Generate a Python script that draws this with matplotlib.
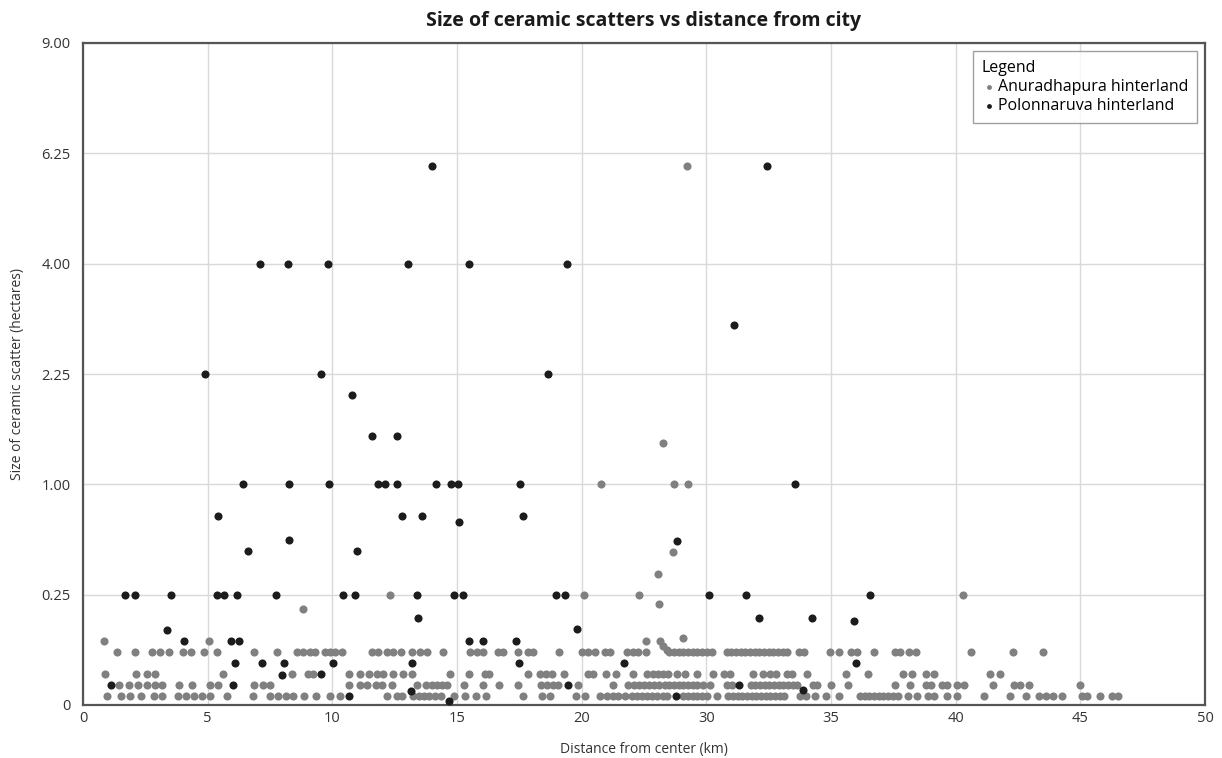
import numpy as np
import matplotlib.pyplot as plt

plt.rcParams['font.family'] = ['Open Sans', 'DejaVu Sans']

# x positions are in axis units: one grid cell = 5 units, tick labels below
xtick_labels = ['0', '5', '10', '15', '20', '30', '35', '40', '45', '50']
ytick_values = [0, 0.25, 1.0, 2.25, 4.0, 6.25, 9.0]
ytick_labels = ['0', '0.25', '1.00', '2.25', '4.00', '6.25', '9.00']

# Anuradhapura hinterland (grey)
anu_low_x = [0.98, 1.51, 1.89, 2.31, 2.85, 3.16, 3.82, 4.13, 4.45, 4.76, 5.09, 5.76, 6.83,
             7.50, 7.83, 8.14, 8.44, 8.86, 9.33, 9.91, 10.31, 12.21, 12.58, 12.78, 13.25,
             13.49, 13.68, 13.89, 14.12, 14.34, 14.88, 15.32, 15.76, 16.16, 17.63, 18.40,
             18.73, 19.77, 20.13, 20.73, 21.00, 21.24, 21.47, 21.74, 22.00, 22.21, 22.41,
             22.61, 22.81, 23.01, 23.25, 23.43, 24.08, 24.26, 24.45, 24.64, 24.82, 25.01,
             25.44, 25.88, 26.07, 26.25, 26.44, 26.63, 26.82, 27.00, 27.19, 27.38, 27.57,
             27.75, 27.94, 28.13, 28.75, 28.98, 29.36, 29.78, 30.33, 31.16, 31.35, 31.54,
             31.72, 31.91, 32.10, 32.30, 32.50, 32.70, 33.10, 33.46, 33.90, 34.13, 34.64,
             35.04, 36.12, 37.16, 37.83, 38.36, 38.63, 38.90, 39.26, 40.06, 40.26, 40.80,
             41.26, 41.53]
anu_b_x = [1.46, 1.86, 2.22, 2.58, 2.89, 3.16, 3.85, 4.36, 5.09, 5.43, 6.86, 7.21, 7.50,
           10.68, 11.11, 11.41, 11.75, 11.98, 12.38, 13.38, 13.76, 13.98, 14.18, 14.38,
           14.61, 15.28, 16.03, 16.70, 17.46, 18.35, 18.60, 18.84, 19.06, 19.87, 21.27,
           21.87, 22.10, 22.31, 22.50, 22.71, 22.90, 23.11, 23.33, 23.51, 23.70, 23.89,
           24.08, 24.26, 24.45, 24.64, 24.88, 25.15, 25.81, 26.01, 26.78, 26.96, 27.15,
           27.34, 27.52, 27.71, 27.90, 28.09, 28.27, 28.46, 28.65, 29.29, 29.45, 30.02,
           30.69, 32.57, 33.17, 33.81, 34.00, 34.44, 34.64, 35.04, 35.34, 36.49, 37.35,
           37.59, 37.96, 39.97]
anu_c_x = [0.88, 2.13, 2.55, 2.89, 5.60, 8.37, 9.04, 9.24, 10.68, 11.11, 11.49, 11.80,
           12.04, 12.45, 12.85, 13.18, 14.72, 15.49, 16.12, 16.30, 17.86, 18.33, 18.56,
           18.80, 19.29, 20.27, 20.44, 20.98, 21.38, 22.07, 22.61, 22.85, 23.05, 23.25,
           23.45, 23.81, 24.14, 24.64, 25.25, 25.71, 25.95, 26.88, 27.28, 27.55, 27.79,
           28.22, 28.42, 29.02, 30.60, 31.50, 32.90, 33.23, 33.83, 34.13, 36.39, 36.76]
anu_d_x = [1.38, 2.09, 2.76, 3.09, 3.45, 4.02, 4.32, 4.87, 5.36, 6.86, 7.79, 8.57, 8.81,
           9.11, 9.31, 9.71, 9.91, 10.11, 10.38, 11.58, 11.85, 12.18, 12.45, 12.74, 13.18,
           13.52, 13.81, 14.42, 15.52, 15.79, 16.06, 16.66, 16.86, 17.46, 17.86, 18.06,
           19.10, 20.00, 20.27, 20.53, 20.93, 21.14, 21.80, 22.07, 22.27, 22.58, 23.51,
           23.70, 23.89, 24.08, 24.26, 24.45, 24.64, 24.82, 25.01, 25.21, 25.81, 26.00,
           26.19, 26.38, 26.56, 26.75, 26.94, 27.12, 27.31, 27.50, 27.69, 27.87, 28.06,
           28.22, 28.73, 28.92, 29.96, 30.33, 30.79, 31.05, 31.74, 32.57, 32.77, 33.14,
           33.41, 35.61, 37.29, 38.52]
anu_e_x = [0.84, 5.04, 22.58, 23.16]
anu_other_x = [23.27, 23.41, 24.05, 8.81, 23.12, 12.31, 20.11, 22.31, 35.31, 23.07, 23.67,
               23.25, 20.77, 23.70, 24.28, 24.24]
anu_other_y = [0.072, 0.061, 0.093, 0.19, 0.21, 0.25, 0.25, 0.25, 0.25, 0.35, 0.48,
               1.41, 1.0, 1.0, 1.0, 5.97]

# Polonnaruva hinterland (black)
pol_x = [13.98, 27.42,
         7.10, 8.21, 9.81, 13.05, 15.49, 19.42,
         26.11,
         4.89, 9.56, 18.65,
         10.77,
         11.58, 12.61,
         6.43, 8.26, 9.88, 11.82, 12.11, 12.61, 14.16, 14.75, 15.05, 17.53, 28.56,
         5.40, 12.78, 13.61, 17.63, 15.09,
         8.27, 23.84, 6.63, 11.00,
         1.68, 2.09, 3.53, 5.36, 5.66, 6.16, 7.74, 10.44, 10.91, 13.41, 14.89, 15.23,
         18.99, 19.33, 25.12, 26.59, 31.56,
         13.42, 27.11, 29.22, 30.93, 19.83, 3.38,
         4.05, 5.92, 6.27, 15.48, 16.06, 17.37,
         6.10, 7.17, 8.06, 10.04, 13.18, 17.50, 21.70, 30.99,
         7.99, 9.53,
         1.11, 6.00, 19.46, 26.31,
         13.15, 28.89,
         10.68, 23.78,
         14.68]
pol_y = [5.97, 5.97,
         4.0, 4.0, 4.0, 4.0, 4.0, 4.0,
         2.96,
         2.25, 2.25, 2.25,
         1.97,
         1.49, 1.49,
         1.0, 1.0, 1.0, 1.0, 1.0, 1.0, 1.0, 1.0, 1.0, 1.0, 1.0,
         0.73, 0.73, 0.73, 0.73, 0.69,
         0.56, 0.55, 0.49, 0.49,
         0.25, 0.25, 0.25, 0.25, 0.25, 0.25, 0.25, 0.25, 0.25, 0.25, 0.25, 0.25,
         0.25, 0.25, 0.25, 0.25, 0.25,
         0.155, 0.157, 0.157, 0.144, 0.12, 0.116,
         0.084, 0.084, 0.084, 0.084, 0.084, 0.084,
         0.036, 0.036, 0.036, 0.036, 0.036, 0.036, 0.036, 0.036,
         0.019, 0.02,
         0.008, 0.008, 0.008, 0.008,
         0.0042, 0.0046,
         0.0017, 0.0017,
         0.0003]

# size levels of the grey rows
lvl_a, lvl_b, lvl_c, lvl_d, lvl_e = 0.0017, 0.008, 0.02, 0.057, 0.084

anu_x = anu_low_x + anu_b_x + anu_c_x + anu_d_x + anu_e_x + anu_other_x
anu_y = ([lvl_a] * len(anu_low_x) + [lvl_b] * len(anu_b_x) + [lvl_c] * len(anu_c_x)
         + [lvl_d] * len(anu_d_x) + [lvl_e] * len(anu_e_x) + anu_other_y)

fig = plt.figure(figsize=(12.22, 7.58), dpi=100)
ax = fig.add_axes([83 / 1222, 1 - 705 / 758, 1122 / 1222, 662 / 758])

ax.set_yscale('function', functions=(lambda v: np.sqrt(np.clip(v, 0, None)), np.square))
ax.set_xlim(0, 45)
ax.set_ylim(0, 9)

ax.scatter(anu_x, anu_y, s=34, color='#808080', linewidths=0, zorder=3,
           label='Anuradhapura hinterland', clip_on=False)
ax.scatter(pol_x, pol_y, s=34, color='#1c1c1c', linewidths=0, zorder=4,
           label='Polonnaruva hinterland', clip_on=False)

ax.set_xticks(np.arange(0, 46, 5))
ax.set_xticklabels(xtick_labels)
ax.set_yticks(ytick_values)
ax.set_yticklabels(ytick_labels)
ax.tick_params(length=0, labelsize=10.5, labelcolor='#333333')
ax.tick_params(axis='y', pad=9)
ax.tick_params(axis='x', pad=4)
ax.grid(True, color='#d9d9d9', linewidth=1.0, zorder=0)
ax.set_axisbelow(True)
for sp in ax.spines.values():
    sp.set_color('#555555')
    sp.set_linewidth(1.6)

ax.set_title('Size of ceramic scatters vs distance from city', fontsize=14,
             fontweight='bold', color='#1a1a1a', pad=12)
ax.set_xlabel('Distance from center (km)', fontsize=10, color='#333333', labelpad=12)
ax.set_ylabel('Size of ceramic scatter (hectares)', fontsize=10, color='#333333',
              labelpad=12)

leg = ax.legend(title='Legend', loc='upper right', fontsize=11.5, title_fontsize=11.5,
                markerscale=0.6, handletextpad=0.1, handlelength=0.9,
                borderaxespad=0.5, fancybox=False, edgecolor='#888888',
                alignment='left', labelspacing=0.2, borderpad=0.55)
leg.get_frame().set_linewidth(1.0)

fig.savefig('out.png', dpi=100)
